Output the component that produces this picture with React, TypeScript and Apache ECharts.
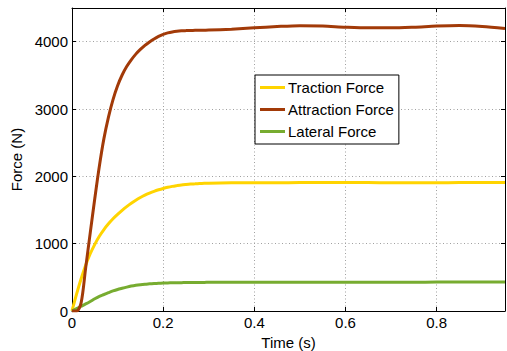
import React, { useEffect, useRef } from "react";
import * as echarts from "echarts";

const timeS = [
  0, 0.01, 0.02, 0.03, 0.04, 0.05, 0.06, 0.07, 0.08, 0.09,
  0.1, 0.11, 0.12, 0.13, 0.14, 0.15, 0.16, 0.17, 0.18, 0.19,
  0.2, 0.21, 0.22, 0.23, 0.24, 0.25, 0.26, 0.27, 0.28, 0.29,
  0.3, 0.35, 0.4, 0.45, 0.5, 0.55, 0.6, 0.65, 0.7, 0.75, 0.8, 0.85, 0.9, 0.95,
];

const tractionForce = [
  0, 250, 480, 680, 850, 990, 1110, 1210, 1295, 1370,
  1435, 1495, 1550, 1600, 1645, 1685, 1720, 1750, 1777, 1800,
  1820, 1837, 1851, 1862, 1872, 1879, 1885, 1889, 1893, 1896,
  1898, 1903, 1905, 1906, 1907, 1908, 1908, 1907, 1906, 1906, 1906, 1907, 1908, 1910,
];

const attractionForce = [
  0, 0, 120, 640, 1160, 1670, 2150, 2560, 2880, 3140,
  3345, 3505, 3630, 3730, 3815, 3885, 3945, 3995, 4040, 4078,
  4108, 4130, 4145, 4155, 4161, 4164, 4166, 4168, 4170, 4171,
  4172, 4185, 4205, 4225, 4238, 4232, 4215, 4205, 4205, 4215, 4232, 4240, 4225, 4195,
];

const lateralForce = [
  0, 35, 70, 105, 142, 182, 218, 245, 272, 298,
  320, 338, 355, 370, 382, 391, 398, 403, 408, 412,
  415, 417, 419, 420, 421, 422, 423, 424, 425, 425,
  426, 427, 427, 427, 427, 427, 428, 428, 428, 428, 429, 429, 430, 430,
];

const seriesNames = ["Traction Force", "Attraction Force", "Lateral Force"];
const seriesColors = ["#FFD400", "#A23A08", "#77AC30"];

const xTicks = { min: 0, max: 0.95, interval: 0.2 };
const yTicks = { min: 0, max: 4500, interval: 1000 };

const FONT = "Liberation Sans";

export default function App() {
  const ref = useRef<HTMLDivElement>(null);
  useEffect(() => {
    if (!ref.current) return;
    const chart = echarts.init(ref.current, undefined, { renderer: "svg", width: 507, height: 351 });
    const pair = (ys: number[]) => timeS.map((t, i) => [t, ys[i]]);
    const allData = [tractionForce, attractionForce, lateralForce];
    const gridLine = { show: true, lineStyle: { color: "#a0a0a0", width: 1, type: [1, 2.5] as any } };
    const axisLine = { show: true, onZero: false, lineStyle: { color: "#000", width: 1 } };
    const tick = { show: true, inside: true, length: 4, lineStyle: { color: "#000" } };
    chart.setOption({
      animation: false,
      backgroundColor: "#fff",
      grid: { left: 72, right: 2, top: 8, bottom: 40, containLabel: false, outerBoundsMode: "none" },
      legend: {
        show: true,
        orient: "vertical",
        left: 255,
        top: 75,
        data: seriesNames,
        icon: "rect",
        itemWidth: 25,
        itemHeight: 3,
        itemGap: 7,
        padding: [5, 5, 5, 5],
        backgroundColor: "#fff",
        borderColor: "#000",
        borderWidth: 1,
        borderRadius: 0,
        textStyle: { fontFamily: FONT, fontSize: 15, color: "#000", lineHeight: 15, padding: [0, 0, 0, -2] },
      },
      xAxis: [
        {
          type: "value",
          ...xTicks,
          name: "Time (s)",
          nameLocation: "middle",
          nameGap: 15,
          nameTextStyle: { fontFamily: FONT, fontSize: 15, color: "#000" },
          axisLine,
          axisTick: tick,
          axisLabel: {
            show: true, margin: 4, fontFamily: FONT, fontSize: 15, color: "#000", showMaxLabel: false,
            formatter: (v: number) => String(Math.round(v * 10) / 10),
          },
          splitLine: gridLine,
        },
        {
          type: "value",
          position: "top",
          ...xTicks,
          axisLine,
          axisTick: tick,
          axisLabel: { show: false },
          splitLine: { show: false },
        },
      ],
      yAxis: [
        {
          type: "value",
          ...yTicks,
          name: "Force (N)",
          nameLocation: "middle",
          nameGap: 37,
          nameRotate: 90,
          nameTextStyle: { fontFamily: FONT, fontSize: 15, color: "#000" },
          axisLine,
          axisTick: tick,
          axisLabel: {
            show: true, margin: 4, fontFamily: FONT, fontSize: 15, color: "#000", showMaxLabel: false,
            formatter: (v: number) => String(v),
          },
          splitLine: gridLine,
        },
        {
          type: "value",
          position: "right",
          ...yTicks,
          axisLine,
          axisTick: tick,
          axisLabel: { show: false },
          splitLine: { show: false },
        },
      ],
      series: seriesNames.map((name, i) => ({
        name,
        type: "line",
        xAxisIndex: 0,
        yAxisIndex: 0,
        data: pair(allData[i]),
        showSymbol: false,
        symbol: "none",
        smooth: 0.3,
        clip: true,
        z: i === 1 ? 4 : 3,
        lineStyle: { color: seriesColors[i], width: 3 },
        itemStyle: { color: seriesColors[i] },
      })),
    });
    return () => chart.dispose();
  }, []);
  return <div ref={ref} style={{ position: "fixed", left: 0, top: 0, width: 507, height: 351 }} />;
}
